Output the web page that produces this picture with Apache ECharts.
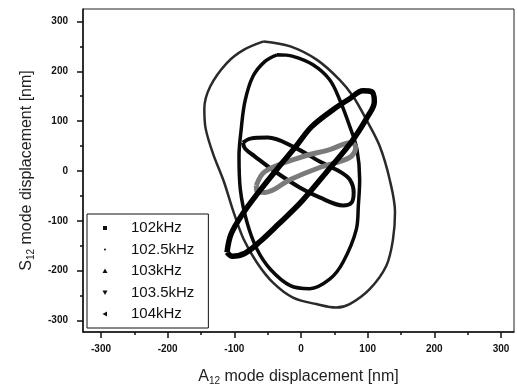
<!DOCTYPE html>
<html>
<head>
<meta charset="utf-8">
<script src="https://cdn.jsdelivr.net/npm/echarts@6.0.0/dist/echarts.min.js"></script>
<style>html,body{margin:0;padding:0;background:#fff}#chart{width:517px;height:391px}</style>
</head>
<body>
<div id="chart"></div>
<script>
const chart = echarts.init(document.getElementById('chart'), null, { renderer: 'canvas' });

// frequencies shown in the legend
const freqNames = ['102kHz', '102.5kHz', '103kHz', '103.5kHz', '104kHz'];

// orbits, [A12, S12] in nm
const orbit102 = [
  [-111, -163], [-105, -127], [-88, -87], [-61, -38], [-34, 7], [-9, 47], [16, 89], [48, 123], [73, 145], [93, 161], [106, 159],
  [110, 139], [99, 107], [76, 59], [39, -1], [1, -61], [-34, -107], [-61, -141], [-84, -165], [-103, -171]
];
const orbit1025 = [
  [-56, 260], [-16, 250], [24, 223], [58, 183], [78, 150], [98, 103], [118, 50], [133, -17], [141, -83], [138, -137],
  [128, -190], [103, -237], [73, -267], [53, -274], [23, -267], [-12, -254], [-42, -224], [-66, -184], [-86, -137],
  [-101, -83], [-116, -20], [-132, 35], [-143, 85], [-145, 125], [-136, 170], [-111, 217], [-86, 243]
];
const orbit103 = [
  [-36, 233], [-12, 230], [18, 213], [43, 183], [58, 143], [73, 90], [84, 43], [88, -17], [86, -70], [83, -117],
  [63, -183], [43, -217], [13, -236], [-16, -230], [-46, -197], [-66, -157], [-81, -103], [-91, -37], [-93, 30],
  [-90, 80], [-84, 140], [-72, 190], [-54, 220]
];
const orbit1035 = [
  [-67, -29], [-54, -1], [-2, 27], [43, 43], [76, 57], [82, 47], [73, 27], [28, 7], [-16, -17], [-54, -43], [-66, -41]
];
const orbit104 = [
  [-87, 57], [-76, 65], [-50, 67], [-9, 47], [28, 19], [58, -1], [73, -17], [79, -43], [76, -63], [63, -69],
  [28, -53], [-2, -33], [-39, -1], [-69, 29], [-84, 45]
];

// axis ranges and ticks
const xRange = [-327, 319.5];
const yRange = [-323, 325];
const majorTicks = [-300, -200, -100, 0, 100, 200, 300];
const minorTicks = [-250, -150, -50, 50, 150, 250];

const legendIcons = [
  'path://M0,0M10,10M3,3H7V7H3Z',
  'path://M0,0M10,10M4,5A1,1,0,1,1,6,5A1,1,0,1,1,4,5Z',
  'path://M0,0M10,10M5,2.5L7.5,7H2.5Z',
  'path://M0,0M10,10M2.5,3H7.5L5,7.5Z',
  'path://M0,0M10,10M7,2.5V7.5L2.5,5Z'
];

function loop(name, pts, color, width, z) {
  return {
    name: name,
    type: 'line',
    xAxisIndex: 0,
    yAxisIndex: 0,
    data: pts.concat([pts[0]]),
    smooth: 0.35,
    symbol: 'none',
    lineStyle: { color: color, width: width },
    itemStyle: { color: color },
    z: z,
    silent: true
  };
}

const labelFont = { fontSize: 10, fontWeight: 'bold', color: '#111', fontFamily: 'Liberation Sans' };
const nameRich = {
  sub: { fontSize: 10, padding: [8, 0, 0, 0], color: '#222', fontFamily: 'Liberation Sans' }
};

const option = {
  animation: false,
  backgroundColor: '#fff',
  grid: { left: 83, right: 3, top: 9, bottom: 58, show: true, borderColor: '#222', borderWidth: 1 },
  legend: {
    orient: 'vertical',
    left: 87,
    top: 214,
    padding: [6, 14, 6, 13],
    itemGap: 5.5,
    itemWidth: 20,
    itemHeight: 10,
    borderColor: '#111',
    borderWidth: 1,
    backgroundColor: '#fff',
    selectedMode: false,
    itemStyle: { color: '#111' },
    textStyle: { fontSize: 15, lineHeight: 16, color: '#111', fontFamily: 'Liberation Sans', padding: [0, 0, 0, 11] },
    data: freqNames.map((n, i) => ({ name: n, icon: legendIcons[i] }))
  },
  xAxis: [{
    type: 'value', position: 'bottom', min: xRange[0], max: xRange[1],
    splitLine: { show: false },
    axisLine: { onZero: false, lineStyle: { color: '#111', width: 1.5 } },
    axisTick: { customValues: majorTicks, length: 6, lineStyle: { color: '#111', width: 1.5 } },
    axisLabel: Object.assign({ customValues: majorTicks, margin: 12 }, labelFont),
    name: 'A{sub|12} mode displacement [nm]',
    nameLocation: 'middle',
    nameGap: 36,
    nameTextStyle: { fontSize: 16, color: '#222', fontFamily: 'Liberation Sans', rich: nameRich }
  }, {
    type: 'value', position: 'bottom', min: xRange[0], max: xRange[1],
    splitLine: { show: false },
    axisLine: { show: false, onZero: false },
    axisLabel: { show: false },
    axisTick: { customValues: minorTicks, length: 3, lineStyle: { color: '#111', width: 1.5 } }
  }],
  yAxis: [{
    type: 'value', position: 'left', min: yRange[0], max: yRange[1],
    splitLine: { show: false },
    axisLine: { onZero: false, lineStyle: { color: '#111', width: 1.5 } },
    axisTick: { customValues: majorTicks, length: 6, lineStyle: { color: '#111', width: 1.5 } },
    axisLabel: Object.assign({ customValues: majorTicks, margin: 15 }, labelFont),
    name: 'S{sub|12} mode displacement [nm]',
    nameLocation: 'middle',
    nameGap: 47,
    nameTextStyle: { fontSize: 16, color: '#222', fontFamily: 'Liberation Sans', rich: nameRich }
  }, {
    type: 'value', position: 'left', min: yRange[0], max: yRange[1],
    splitLine: { show: false },
    axisLine: { show: false, onZero: false },
    axisLabel: { show: false },
    axisTick: { customValues: minorTicks, length: 3, lineStyle: { color: '#111', width: 1.5 } }
  }],
  series: [
    loop(freqNames[1], orbit1025, '#2a2a2a', 2.5, 2),
    loop(freqNames[2], orbit103, '#0a0a0a', 3.5, 3),
    loop(freqNames[4], orbit104, '#0a0a0a', 4, 4),
    loop(freqNames[3], orbit1035, '#7a7a7a', 5, 5),
    loop(freqNames[0], orbit102, '#000', 5.5, 6)
  ]
};

chart.setOption(option);
</script>
</body>
</html>
